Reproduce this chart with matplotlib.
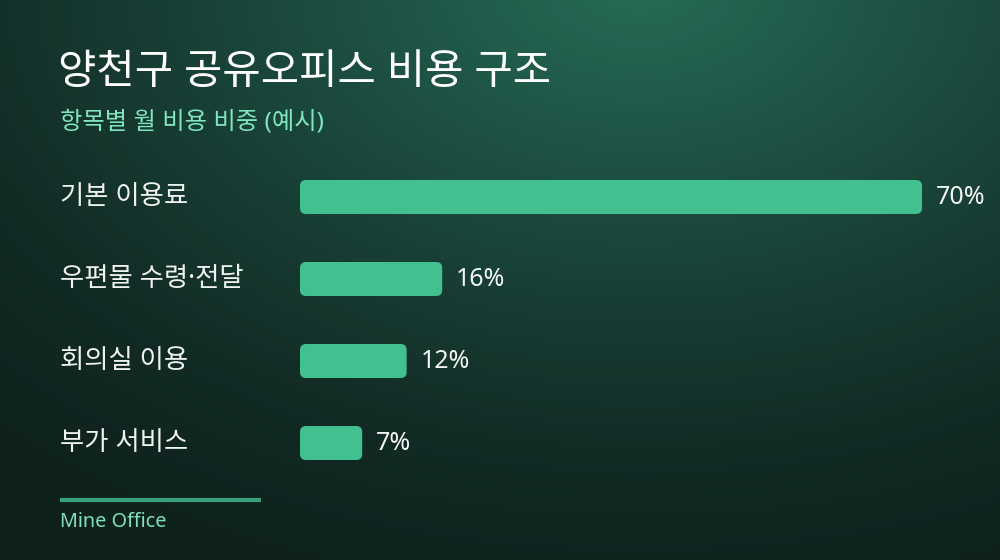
import numpy as np
import matplotlib
matplotlib.use("Agg")
import matplotlib.pyplot as plt
from matplotlib.patches import FancyBboxPatch
from matplotlib.colors import LinearSegmentedColormap

plt.rcParams['font.family'] = ['Noto Sans', 'Noto Sans CJK KR', 'DejaVu Sans']

# data
categories = ['기본 이용료', '우편물 수령·전달', '회의실 이용', '부가 서비스']
shares = [70, 16, 12, 7]
value_labels = ['70%', '16%', '12%', '7%']

title = '양천구 공유오피스 비용 구조'
subtitle = '항목별 월 비용 비중 (예시)'
footer = 'Mine Office'

W, H = 1000, 560
fig = plt.figure(figsize=(W / 100, H / 100), dpi=100)

# background: radial glow from the top centre
bg = fig.add_axes([0, 0, 1, 1], zorder=-10)
yy, xx = np.mgrid[0:H, 0:W]
d = np.sqrt(((xx - 640) / 900.0) ** 2 + ((yy + 20) / 600.0) ** 2)
d = np.clip(d, 0, 1.05) / 1.05
cmap = LinearSegmentedColormap.from_list(
    'bg', ['#276c57', '#1f5546', '#183f35', '#122b25', '#0e211d'])
bg.imshow(d, cmap=cmap, aspect='auto', extent=[0, W, H, 0], vmin=0, vmax=1)
bg.set_xlim(0, W)
bg.set_ylim(H, 0)
bg.axis('off')

# bar axes: x=0 at 300px, 8.886 px per percent
px_per = 622 / 70.0
ax_left, ax_right = 300, 1000
ax_top, ax_bot = 156, 484
ax = fig.add_axes([ax_left / W, 1 - ax_bot / H, (ax_right - ax_left) / W, (ax_bot - ax_top) / H])
ax.set_xlim(0, (ax_right - ax_left) / px_per)
ax.set_ylim(len(categories) - 0.5, -0.5)
ax.axis('off')
ax.patch.set_alpha(0)

bar_h = 34 / 82.0
r_px = 6
rx = r_px / px_per
aspect = (r_px / 82.0) / rx
for i, (v, lab) in enumerate(zip(shares, value_labels)):
    box = FancyBboxPatch((0, i - bar_h / 2), v, bar_h,
                         boxstyle=f'round,pad=0,rounding_size={rx}',
                         mutation_aspect=aspect,
                         facecolor='#43c08f', edgecolor='none')
    ax.add_patch(box)
    ax.text(v + 14 / px_per, i, lab, color='#f2f5f4', fontsize=18,
            va='center', ha='left')

# category labels
for i, c in enumerate(categories):
    y = 197 + 82 * i
    fig.text(60 / W, 1 - y / H, c, color='#eef2f0', fontsize=19,
             va='center', ha='left')

fig.text(58 / W, 1 - 73 / H, title, color='white', fontsize=30,
         va='center', ha='left')
fig.text(60 / W, 1 - 123 / H, subtitle, color='#7fe6c1', fontsize=17.5,
         va='center', ha='left')

# footer
bg.plot([60, 261], [500, 500], color='#3b9e7b', lw=3, solid_capstyle='butt')
fig.text(60 / W, 1 - 522 / H, footer, color='#7fe0bf', fontsize=14.3,
         va='center', ha='left')

fig.savefig('out.png', dpi=100)
